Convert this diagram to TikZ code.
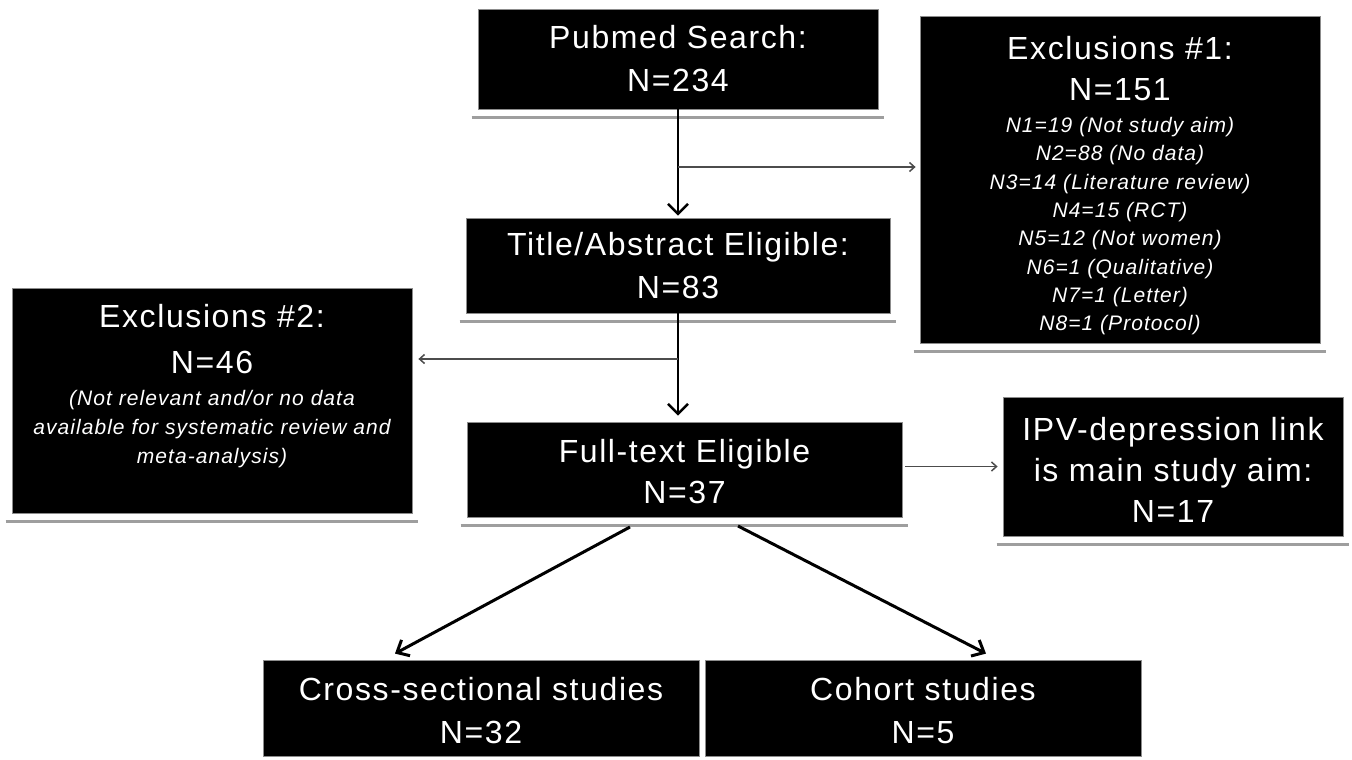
\documentclass[tikz,border=0pt]{standalone}
\usepackage{fontspec}
\setmainfont{Liberation Sans}
\newfontfamily\boxfont[LetterSpace=5]{Liberation Sans}
\usetikzlibrary{arrows.meta}
\newcommand{\sm}{\fontsize{21}{28}\selectfont\itshape}
\tikzset{
  box/.style={fill=black, draw=black!45, line width=0.8pt, text=white, inner sep=0pt,
    align=center, font=\boxfont\fontsize{32}{43}\selectfont},
  boxtext/.style={box, fill=none, draw=none},
  shadowline/.style={draw=black!38, line width=2.5pt},
  mainarrow/.style={draw=black, line width=2.5pt, -{Straight Barb[length=10pt,width=20pt]}},
  sidearrow/.style={draw=black!70, line width=1.5pt, -{Straight Barb[length=5pt,width=9pt]}},
  diagarrow/.style={draw=black, line width=3pt, -{Straight Barb[length=10pt,width=18pt]}},
}
\begin{document}
\begin{tikzpicture}[x=1pt,y=-1pt]
\fill[white] (0,0) rectangle (1352,760);
\useasboundingbox (0,0) rectangle (1352,760);

\node[box, minimum width=400, minimum height=100] (pub) at (678,59) {Pubmed Search:\\N=234};
\node[box, minimum width=424, minimum height=95] (title) at (678,265.5) {Title/Abstract Eligible:\\N=83};
\node[box, minimum width=435, minimum height=95] (ft) at (684.5,469.5) {};
\node[boxtext] (fttext) at (684.5,472) {Full-text Eligible\\[-2pt]N=37};
\node[box, minimum width=400, minimum height=327] (exc1) at (1120,179.5) {};
\node[boxtext] (exc1text) at (1120,185.5)
  {Exclusions \#1:\\[-2pt]N=151\\[-10.5pt]%
   \sm N1=19 (Not study aim)\\[-14.7pt]%
   \sm N2=88 (No data)\\[-14.7pt]%
   \sm N3=14 (Literature review)\\[-14.7pt]%
   \sm N4=15 (RCT)\\[-14.7pt]%
   \sm N5=12 (Not women)\\[-14.7pt]%
   \sm N6=1 (Qualitative)\\[-14.7pt]%
   \sm N7=1 (Letter)\\[-14.7pt]%
   \sm N8=1 (Protocol)};
\node[box, minimum width=400, minimum height=225] (exc2) at (212,400.5) {};
\node[boxtext] (exc2text) at (212,386)
  {Exclusions \#2:\\[3pt]N=46\\[-11.5pt]%
   \sm (Not relevant and/or no data\\[-14pt]%
   \sm available for systematic review and\\[-14pt]%
   \sm meta-analysis)};
\node[box, minimum width=340, minimum height=139] (ipv) at (1173,466.5) {};
\node[boxtext] (ipvtext) at (1173,469.5)
  {IPV-depression link\\[-2pt]is main study aim:\\[-2pt]N=17};
\node[box, minimum width=436, minimum height=96] (cross) at (481,708) {};
\node[boxtext] (crosstext) at (481,711) {Cross-sectional studies\\N=32};
\node[box, minimum width=436, minimum height=96] (cohort) at (923,708) {};
\node[boxtext] (cohorttext) at (923,711) {Cohort studies\\N=5};

\foreach \n in {pub,title,ft,exc1,exc2,ipv}
  \draw[shadowline] ([shift={(-6,8)}]\n.south west) -- ([shift={(6,8)}]\n.south east);

\coordinate (b1) at (678,167);
\coordinate (b2) at (678,359);
\coordinate (d1) at (630,527);
\coordinate (d2) at (738,526);

\draw[mainarrow, shorten >=2pt] (pub.south) -- (title.north);
\draw[sidearrow, shorten >=4pt] (b1) -- (b1 -| exc1.west);
\draw[mainarrow, shorten >=6pt] (title.south) -- (title.south |- ft.north);
\draw[sidearrow, shorten >=6pt] (b2) -- (b2 -| exc2.east);
\draw[sidearrow, shorten <=3pt, shorten >=5pt] (ft.east |- ipv.west) -- (ipv.west);
\draw[diagarrow] (d1) -- ([shift={(-86,-6)}]cross.north);
\draw[diagarrow] (d2) -- ([shift={(63,-6)}]cohort.north);
\end{tikzpicture}
\end{document}
